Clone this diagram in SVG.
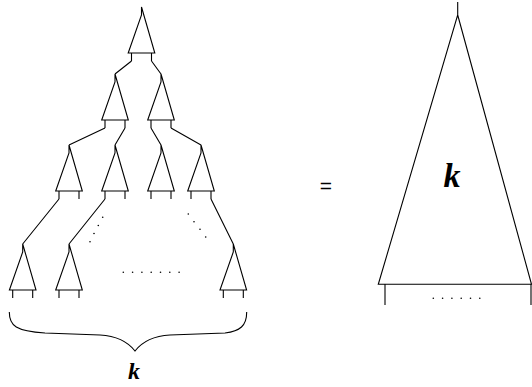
<svg xmlns="http://www.w3.org/2000/svg" width="532" height="387" viewBox="0 0 532 387">
<defs>
<style>
.s{fill:none;stroke:#000;stroke-width:1.1;stroke-linecap:butt}
.d{fill:#000}
.k{font-family:"Liberation Serif",serif;font-style:italic;font-weight:bold;fill:#000}
</style>
<g id="tri">
<path class="s" d="M0,-8 V0 L-13.3,38 H13.3 Z M-10,38 V46 M10,38 V46"/>
</g>
</defs>
<rect width="532" height="387" fill="#fff"/>
<g id="t0"><use href="#tri" x="141.5" y="15"/></g>
<g id="t1"><use href="#tri" x="115" y="82"/></g>
<g id="t2"><use href="#tri" x="161" y="82"/></g>
<g id="t3"><use href="#tri" x="69" y="153"/></g>
<g id="t4"><use href="#tri" x="115" y="153"/></g>
<g id="t5"><use href="#tri" x="161" y="153"/></g>
<g id="t6"><use href="#tri" x="201" y="153"/></g>
<g id="t7"><use href="#tri" x="22.7" y="252"/></g>
<g id="t8"><use href="#tri" x="69" y="252"/></g>
<g id="t9"><use href="#tri" x="233.3" y="252"/></g>
<g id="connectors">
<path class="s" d="M131.5,61 L115,74 M151.5,61 L161,74 M105,128 L69,145 M125,128 L115,145 M151,128 L161,145 M171,128 L201,145 M59,199 L22.7,244 M105,199 L69,244 M211,199 L233.3,244"/>
</g>
<g id="dots">
<circle class="d" cx="102.7" cy="217.3" r="0.8"/>
<circle class="d" cx="98.3" cy="225.5" r="0.8"/>
<circle class="d" cx="94" cy="233.5" r="0.8"/>
<circle class="d" cx="90" cy="241.7" r="0.8"/>
<circle class="d" cx="188.3" cy="214" r="0.8"/>
<circle class="d" cx="194" cy="221.7" r="0.8"/>
<circle class="d" cx="200" cy="229.3" r="0.8"/>
<circle class="d" cx="205.7" cy="237" r="0.8"/>
<circle class="d" cx="123.3" cy="272.3" r="0.8"/>
<circle class="d" cx="132.6" cy="272.3" r="0.8"/>
<circle class="d" cx="141.9" cy="272.3" r="0.8"/>
<circle class="d" cx="151.2" cy="272.3" r="0.8"/>
<circle class="d" cx="160.5" cy="272.3" r="0.8"/>
<circle class="d" cx="169.8" cy="272.3" r="0.8"/>
<circle class="d" cx="179.1" cy="272.3" r="0.8"/>
</g>
<g id="brace">
<path class="s" d="M9.3,312 C9.3,326 16,331 45,333 L100,335 C118,336 128,342 135,351 C142,342 152,336 170,335 L225,333 C240,331 246.7,326 246.7,312"/>
<text class="k" x="134" y="379" font-size="24" text-anchor="middle">k</text>
</g>
<text x="326" y="193" font-family="Liberation Sans, sans-serif" font-size="21" text-anchor="middle">=</text>
<g id="big">
<path class="s" d="M457.7,2 V15 L378.3,284.3 H531.5 L457.7,15 M385,284.3 V305 M531,284.3 V305"/>
<circle class="d" cx="433.3" cy="298.3" r="0.8"/>
<circle class="d" cx="442.6" cy="298.3" r="0.8"/>
<circle class="d" cx="451.9" cy="298.3" r="0.8"/>
<circle class="d" cx="461.2" cy="298.3" r="0.8"/>
<circle class="d" cx="470.5" cy="298.3" r="0.8"/>
<circle class="d" cx="479.8" cy="298.3" r="0.8"/>
<text class="k" x="452" y="186.5" font-size="34" text-anchor="middle">k</text>
</g>
</svg>
